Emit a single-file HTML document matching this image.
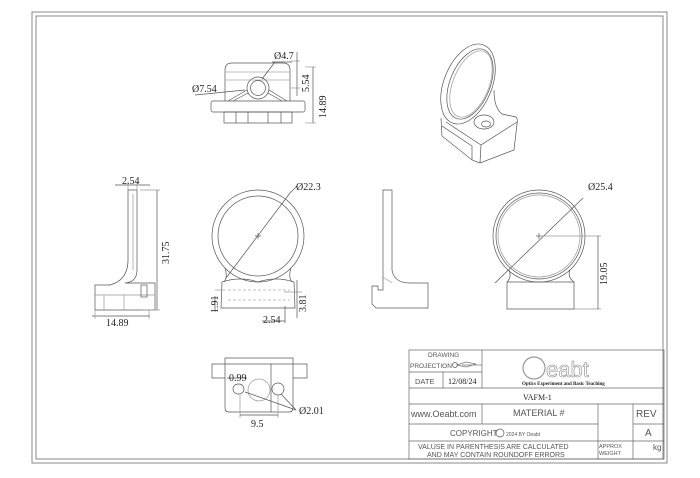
<!DOCTYPE html>
<html><head><meta charset="utf-8"><style>
html,body{margin:0;padding:0;background:#fff;width:700px;height:478px;overflow:hidden}
svg{display:block}
text{font-family:"Liberation Serif",serif;fill:#222}
.s{font-family:"Liberation Sans",sans-serif;fill:#555}
</style></head><body>
<svg width="700" height="478" viewBox="0 0 700 478" xmlns="http://www.w3.org/2000/svg" fill="none" stroke="#555" stroke-width="0.7">
<rect x="32" y="12" width="635" height="451" stroke="#888" stroke-width="1"/>
<rect x="36" y="16" width="627" height="443" stroke="#888" stroke-width="1"/>

<!-- top view -->
<path d="M225,101 L225,70 Q225,63 232,63 L283,63 Q290,63 290,70 L290,101"/>
<line x1="225" y1="72" x2="290" y2="72" stroke="#aaa"/>
<line x1="225" y1="80" x2="290" y2="80" stroke="#aaa"/>
<rect x="211" y="101" width="94" height="11" rx="2"/>
<rect x="224" y="112" width="68" height="11"/>
<line x1="236" y1="112" x2="236" y2="123"/><line x1="248" y1="112" x2="248" y2="123"/><line x1="268" y1="112" x2="268" y2="123"/><line x1="281" y1="112" x2="281" y2="123"/>
<circle cx="258" cy="88" r="11"/><circle cx="258" cy="88" r="7.5"/>
<path d="M228,101 L247,90 M287,101 L269,90 M233,101 L248,93 M282,101 L268,93"/>
<line x1="262" y1="79" x2="275" y2="62"/><line x1="272" y1="62" x2="292" y2="62"/>
<line x1="195" y1="95" x2="245" y2="90"/>
<line x1="291" y1="61" x2="300" y2="61" stroke="#999"/><line x1="291" y1="88" x2="300" y2="88" stroke="#999"/>
<line x1="297" y1="52" x2="297" y2="96"/>
<line x1="305" y1="67" x2="316" y2="67" stroke="#999"/><line x1="305" y1="123" x2="316" y2="123" stroke="#999"/>
<line x1="313" y1="67" x2="313" y2="123"/>
<text x="274" y="59" font-size="10" stroke="none">Ø4.7</text>
<text x="192" y="92" font-size="10" stroke="none">Ø7.54</text>
<text transform="translate(309,92) rotate(-90)" font-size="10" stroke="none">5.54</text>
<text transform="translate(326,118) rotate(-90)" font-size="10" stroke="none">14.89</text>

<!-- iso view -->
<ellipse cx="468" cy="84" rx="24" ry="42" transform="rotate(22 468 84)"/>
<ellipse cx="470" cy="84" rx="20" ry="37" transform="rotate(22 470 84)"/>
<ellipse cx="471" cy="84" rx="18" ry="35" transform="rotate(22 471 84)" stroke="#999"/>
<path d="M494,90 Q494,108 502,114 L516,117 Q518,119 517,124 L514,150 L480,163 L472,160 L442,136 L441,118"/>
<path d="M480,163 L481,145 L517,122 M481,145 L446,122"/>
<ellipse cx="484" cy="122" rx="10" ry="7"/><ellipse cx="486" cy="124" rx="4.5" ry="3"/>
<path d="M472,160 L472,146 L442,126"/>

<!-- left side view -->
<path d="M128,190 L137,190 L137,270 Q137,282 125,283 L155,283 L155,310 L95,310 L95,285 L110,285 Q128,280 128,260 Z"/>
<line x1="133" y1="194" x2="133" y2="270" stroke="#999"/>
<line x1="95" y1="295" x2="155" y2="295" stroke="#999"/>
<line x1="104" y1="295" x2="104" y2="310" stroke="#999"/><line x1="124" y1="295" x2="124" y2="310" stroke="#999"/>
<rect x="141" y="285" width="6" height="12"/>
<line x1="115" y1="185" x2="150" y2="185"/>
<line x1="128" y1="182" x2="128" y2="190" stroke="#999"/><line x1="137" y1="182" x2="137" y2="190" stroke="#999"/>
<line x1="140" y1="190" x2="160" y2="190" stroke="#999"/><line x1="140" y1="310" x2="160" y2="310" stroke="#999"/>
<line x1="157" y1="190" x2="157" y2="310"/>
<line x1="92" y1="316" x2="150" y2="316"/>
<line x1="95" y1="310" x2="95" y2="319" stroke="#999"/><line x1="149" y1="310" x2="149" y2="319" stroke="#999"/>
<text x="122" y="184" font-size="10" stroke="none">2.54</text>
<text transform="translate(169,264) rotate(-90)" font-size="10" stroke="none">31.75</text>
<text x="106" y="326" font-size="10" stroke="none">14.89</text>

<!-- front view -->
<circle cx="258" cy="236" r="46"/><circle cx="258" cy="236" r="40"/>
<path d="M225,268 Q228,277 224,282 M291,268 Q288,277 292,282"/>
<path d="M222,282 Q240,276 258,282 Q276,276 294,282 L295,308 L221,308 Z"/>
<path d="M228,290 L290,290 M228,300 L290,300" stroke="#aaa" stroke-dasharray="3,2"/>
<line x1="226" y1="278" x2="290" y2="193"/>
<path d="M255,236 h6 M258,233 v6"/>
<line x1="290" y1="193" x2="297" y2="186"/>
<line x1="215" y1="296" x2="215" y2="312"/><line x1="215" y1="290" x2="225" y2="290" stroke="#999"/>
<line x1="284" y1="292" x2="302" y2="292" stroke="#999"/><line x1="297" y1="280" x2="297" y2="318"/>
<line x1="262" y1="321" x2="285" y2="321"/><line x1="285" y1="306" x2="285" y2="323"/>
<text x="296" y="190" font-size="10" stroke="none">Ø22.3</text>
<text transform="translate(218,313) rotate(-90)" font-size="10" stroke="none">1.91</text>
<text transform="translate(306,312) rotate(-90)" font-size="10" stroke="none">3.81</text>
<text x="263" y="323" font-size="10" stroke="none">2.54</text>

<!-- right side view -->
<path d="M383,190 L392,190 L392,270 Q394,283 410,283 L428,283 L428,308 L376,308 L372,304 L372,286 L378,286 L378,290 L383,290 Z"/>
<line x1="383" y1="277" x2="392" y2="283" stroke="#999"/>

<!-- right front view -->
<circle cx="539" cy="236" r="46"/><circle cx="539" cy="236" r="43"/><circle cx="539" cy="236" r="41" stroke="#999"/>
<path d="M509,270 Q512,277 507,282 M570,270 Q567,277 574,282"/>
<path d="M507,282 L574,282 L574,309 L507,309 Z"/>
<line x1="495" y1="283" x2="583" y2="198"/>
<path d="M536,236 h6 M539,233 v6"/>
<line x1="539" y1="236" x2="601" y2="236" stroke="#999"/><line x1="574" y1="309" x2="601" y2="309" stroke="#999"/>
<line x1="598" y1="236" x2="598" y2="309"/>
<text x="588" y="190" font-size="10" stroke="none">Ø25.4</text>
<text transform="translate(607,285) rotate(-90)" font-size="10" stroke="none">19.05</text>

<!-- bottom view -->
<path d="M225,358 L293,358 L293,408 Q293,412 289,412 L229,412 Q225,412 225,408 Z"/>
<line x1="225" y1="364" x2="293" y2="364"/>
<path d="M225,364 L212,364 L212,378 L225,378 M293,364 L307,364 L307,378 L293,378"/>
<line x1="271" y1="364" x2="271" y2="412"/>
<circle cx="259" cy="390" r="11" stroke="#999"/>
<rect x="233" y="384" width="11" height="10" rx="5"/>
<circle cx="278" cy="389" r="6"/>
<line x1="227" y1="378" x2="247" y2="378"/>
<line x1="240" y1="394" x2="240" y2="418" stroke="#999"/><line x1="278" y1="395" x2="278" y2="418" stroke="#999"/>
<line x1="240" y1="415" x2="278" y2="415"/>
<line x1="245" y1="392" x2="296" y2="410"/><line x1="281" y1="394" x2="296" y2="410"/>
<text x="229" y="381" font-size="10" stroke="none">0.99</text>
<text x="251" y="427" font-size="10" stroke="none">9.5</text>
<text x="299" y="414" font-size="10" stroke="none">Ø2.01</text>

<!-- title block -->
<g stroke="#666">
<rect x="409" y="350" width="255" height="109"/>
<line x1="409" y1="372" x2="482" y2="372"/>
<line x1="443" y1="372" x2="443" y2="388"/>
<line x1="482" y1="350" x2="482" y2="388"/>
<line x1="409" y1="388" x2="664" y2="388"/>
<line x1="409" y1="404" x2="664" y2="404"/>
<line x1="482" y1="404" x2="482" y2="424"/>
<line x1="409" y1="424" x2="598" y2="424"/>
<line x1="633" y1="424" x2="664" y2="424"/>
<line x1="409" y1="441" x2="664" y2="441"/>
<line x1="598" y1="404" x2="598" y2="459"/>
<line x1="633" y1="404" x2="633" y2="459"/>
</g>
<path d="M457,365 L466,362 L476,364 L466,367 Z M462,365 h20" stroke="#777"/>
<circle cx="455" cy="365" r="2.5"/>
<circle cx="534" cy="368" r="11" stroke="#999" stroke-width="1.2"/>
<text x="546" y="377" font-size="22" class="s" style="fill:none;stroke:#888;stroke-width:0.6">eabt</text>
<text x="522" y="385" font-size="5" font-family="Liberation Sans" stroke="none" font-weight="bold">Optics Experiment and Basic Teaching</text>
<text x="428" y="357" font-size="6.5" class="s" stroke="none">DRAWING</text>
<text x="410" y="368" font-size="6.5" class="s" stroke="none">PROJECTION</text>
<text x="415" y="384" font-size="7.5" class="s" stroke="none">DATE</text>
<text x="448" y="384" font-size="8" stroke="none">12/08/24</text>
<text x="523" y="400" font-size="8" stroke="none">VAFM-1</text>
<text x="411" y="417" font-size="9" class="s" stroke="none">www.Oeabt.com</text>
<text x="513" y="416" font-size="9" class="s" stroke="none">MATERIAL #</text>
<text x="636" y="417" font-size="10" class="s" stroke="none">REV</text>
<text x="645" y="436" font-size="10" class="s" stroke="none">A</text>
<text x="450" y="436" font-size="8" class="s" stroke="none">COPYRIGHT</text>
<circle cx="500" cy="433" r="4"/>
<text x="506" y="436" font-size="5" class="s" stroke="none">2024 BY Oeabt</text>
<text x="418" y="449" font-size="7" class="s" stroke="none">VALUSE IN PARENTHESIS ARE CALCULATED</text>
<text x="427" y="457" font-size="7" class="s" stroke="none">AND MAY CONTAIN ROUNDOFF ERRORS</text>
<text x="599" y="448" font-size="5.5" class="s" stroke="none">APPROX</text>
<text x="599" y="455" font-size="5.5" class="s" stroke="none">WEIGHT</text>
<text x="653" y="450" font-size="8" class="s" stroke="none">kg</text>
</svg>
</body></html>
